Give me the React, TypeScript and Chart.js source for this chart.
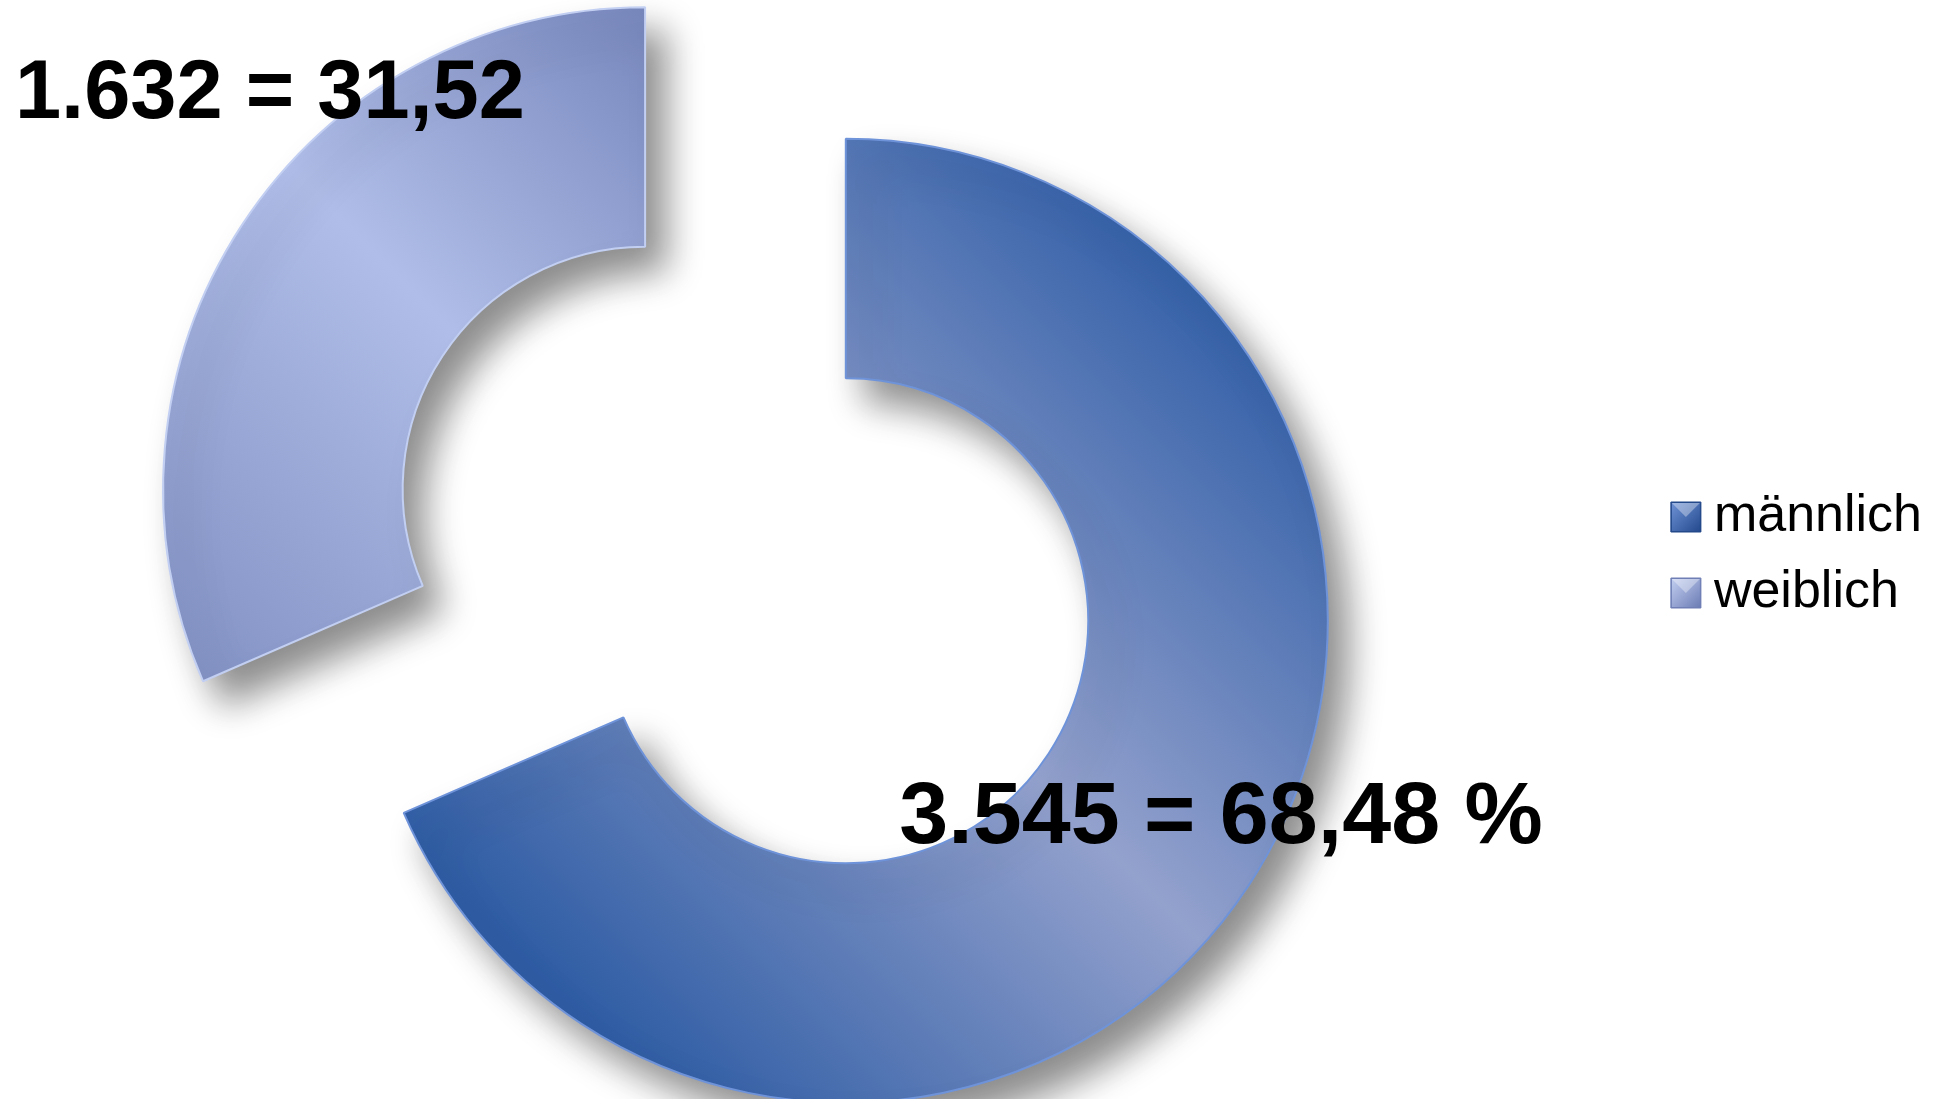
import { useEffect, useRef } from 'react';
import { Chart, registerables } from 'chart.js';

Chart.register(...registerables);

// ---- data ----
const categories = ['männlich', 'weiblich'];
const counts = [3545, 1632];
const valueLabels = ['3.545 = 68,48 %', '1.632 = 31,52'];

// ---- colours ----
const darkStart = ['#2E5CA4', '#7C8CBF'];
const lightMid = ['#93A1CD', '#B0BDE8'];
const darkEnd = ['#2F5DA6', '#6475AE'];
const edgeColors = ['#6F93D9', '#C2CFF2'];
const legendDark = ['#23498C', '#6A7BB3'];
const legendLight = ['#6F93D6', '#C4D0F2'];
const legendEdges = ['#24498A', '#6F7FB5'];

const FONT = 'Arial, "Liberation Sans", Helvetica, sans-serif';
const EXPLODE = 120; // px shift of each slice away from the centre
const RADIUS = 482;
const SHIFT_LEFT = 169; // canvas extends past the left page edge

function explodedCentre(chart: any, i: number) {
  const area = chart.chartArea;
  const cx = (area.left + area.right) / 2;
  const cy = (area.top + area.bottom) / 2;
  const total = counts.reduce((a, b) => a + b, 0);
  let cum = 0;
  for (let k = 0; k < i; k++) cum += counts[k];
  const start = -Math.PI / 2 + (2 * Math.PI * cum) / total;
  const mid = start + (Math.PI * counts[i]) / total;
  return {
    x: cx + Math.cos(mid) * EXPLODE,
    y: cy + Math.sin(mid) * EXPLODE,
    dx: Math.cos(mid) * EXPLODE,
    dy: Math.sin(mid) * EXPLODE,
  };
}

function sliceFill(ctx: any) {
  const chart = ctx.chart;
  const i = ctx.dataIndex ?? 0;
  if (!chart.chartArea) return lightMid[i];
  const { x, y } = explodedCentre(chart, i);
  const k = RADIUS * 0.72;
  const g = chart.ctx.createLinearGradient(x - k, y + k, x + k, y - k);
  g.addColorStop(0, darkStart[i]);
  g.addColorStop(0.5, lightMid[i]);
  g.addColorStop(1, darkEnd[i]);
  return g;
}

// draws every arc shifted outward along its mid angle, with a soft drop shadow
const explodedDraw = {
  id: 'explodedDraw',
  beforeDatasetDraw(chart: any, args: any) {
    const c = chart.ctx;
    args.meta.data.forEach((arc: any, i: number) => {
      const { dx, dy } = explodedCentre(chart, i);
      c.save();
      c.shadowColor = 'rgba(0,0,0,0.45)';
      c.shadowBlur = 36;
      c.shadowOffsetX = 20;
      c.shadowOffsetY = 24;
      c.translate(dx, dy);
      arc.draw(c, chart.chartArea);
      c.restore();
    });
    return false;
  },
};

// bevelled look for the legend squares
const legendBevel = {
  id: 'legendBevel',
  afterDraw(chart: any) {
    const legend = chart.legend;
    if (!legend || !legend.legendHitBoxes) return;
    const c = chart.ctx;
    const s = 30;
    legend.legendHitBoxes.forEach((hb: any, i: number) => {
      const cx = hb.left + 2;
      const cy = hb.top + hb.height / 2;
      const x0 = cx - s / 2;
      const y0 = cy - s / 2;
      c.save();
      const g = c.createLinearGradient(x0, y0, x0 + s, y0 + s);
      g.addColorStop(0, legendLight[i]);
      g.addColorStop(1, legendDark[i]);
      c.fillStyle = g;
      c.fillRect(x0, y0, s, s);
      c.fillStyle = 'rgba(255,255,255,0.35)';
      c.beginPath();
      c.moveTo(x0, y0);
      c.lineTo(x0 + s, y0);
      c.lineTo(x0 + s / 2, y0 + s / 2);
      c.closePath();
      c.fill();
      c.strokeStyle = legendEdges[i];
      c.lineWidth = 1;
      c.strokeRect(x0 + 0.5, y0 + 0.5, s - 1, s - 1);
      c.restore();
    });
  },
};

const labelAnchors = [
  { dx: 0.11, dy: 0.456, size: 88 },
  { dx: -1.294, dy: -0.762, size: 83 },
];

const valueLabelPlugin = {
  id: 'valueLabels',
  afterDraw(chart: any) {
    const meta = chart.getDatasetMeta(0);
    const R = 487;
    const c = chart.ctx;
    c.save();
    c.fillStyle = '#000';
    c.textAlign = 'left';
    c.textBaseline = 'alphabetic';
    meta.data.forEach((_arc: any, i: number) => {
      const { x, y } = explodedCentre(chart, i);
      const a = labelAnchors[i];
      c.font = `bold ${a.size}px ${FONT}`;
      c.fillText(valueLabels[i], x + a.dx * R, y + a.dy * R);
    });
    c.restore();
  },
};

export default function App() {
  const canvasRef = useRef<HTMLCanvasElement | null>(null);

  useEffect(() => {
    if (!canvasRef.current) return;
    Chart.defaults.font.family = FONT;
    const chart = new Chart(canvasRef.current, {
      type: 'doughnut',
      data: {
        labels: categories,
        datasets: [
          {
            data: counts,
            backgroundColor: sliceFill as any,
            borderColor: edgeColors,
            borderWidth: 2,
            hoverOffset: 0,
            clip: false as any,
          },
        ],
      },
      options: {
        animation: false,
        responsive: true,
        maintainAspectRatio: false,
        events: [],
        radius: RADIUS,
        cutout: '50.3%',
        layout: { padding: { left: 0, right: 15, top: 11, bottom: 0 } },
        plugins: {
          tooltip: { enabled: false },
          legend: {
            position: 'right',
            labels: {
              usePointStyle: true,
              boxWidth: 4,
              boxHeight: 30,
              padding: 24,
              color: '#000',
              font: { size: 52, family: FONT },
              generateLabels: () =>
                categories.map((text, i) => ({
                  text,
                  fillStyle: legendDark[i],
                  strokeStyle: legendEdges[i],
                  lineWidth: 1,
                  pointStyle: 'rect',
                  hidden: false,
                  index: i,
                })) as any,
            },
          },
        },
      },
      plugins: [explodedDraw, legendBevel, valueLabelPlugin],
    });
    return () => chart.destroy();
  }, []);

  return (
    <div
      style={{
        position: 'fixed',
        left: `-${SHIFT_LEFT}px`,
        top: 0,
        width: `${1947 + SHIFT_LEFT}px`,
        height: '1099px',
        background: '#fff',
      }}
    >
      <canvas ref={canvasRef} />
    </div>
  );
}
